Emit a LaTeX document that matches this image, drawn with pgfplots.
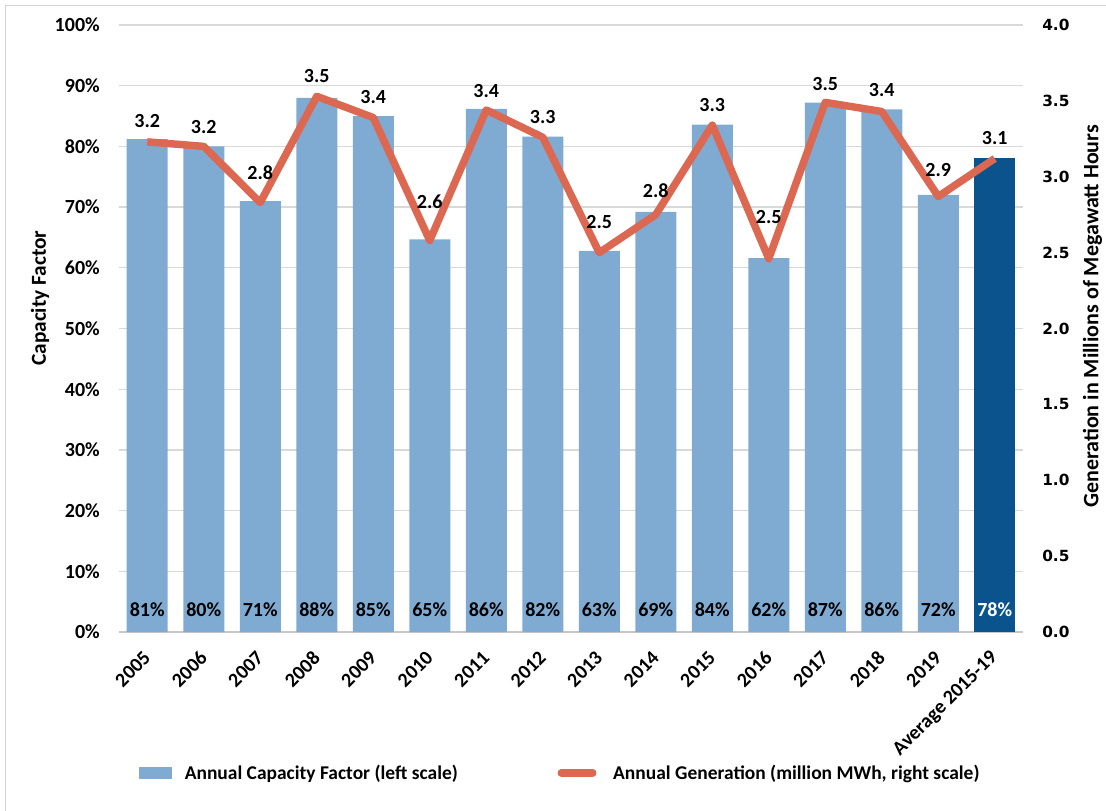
\documentclass[border=0pt]{standalone}
\usepackage{fontspec}
\setmainfont{Carlito}
\newfontfamily\dvsans{DejaVu Sans}
\usepackage{pgfplots}
\pgfplotsset{compat=1.18}
\definecolor{cfblue}{RGB}{127,170,210}
\definecolor{avgblue}{RGB}{11,83,140}
\definecolor{genred}{RGB}{221,104,82}
\definecolor{gridgray}{RGB}{217,217,217}
\newcommand{\lblfont}{\bfseries\fontsize{15}{18}\selectfont}

\begin{document}
\begin{tikzpicture}
\path[use as bounding box] (-89.25pt,-133.5pt) rectangle (740.25pt,474pt);
\draw[gray!35, line width=0.75pt] (-84.75pt,-140pt) -- (-84.75pt,469.5pt) -- (745pt,469.5pt);

% bars, left scale
\begin{axis}[
  at={(0pt,0pt)}, anchor=south west,
  scale only axis, width=678pt, height=455.25pt,
  xmin=-0.5, xmax=15.5, ymin=0, ymax=100,
  axis x line*=bottom, axis y line*=left,
  x axis line style={-, draw=gridgray!80!gray, line width=1.2pt},
  y axis line style={draw=none},
  tick style={draw=none},
  ymajorgrids, major grid style={draw=gridgray, line width=1pt},
  ytick={0,10,20,30,40,50,60,70,80,90,100},
  yticklabels={0\%,10\%,20\%,30\%,40\%,50\%,60\%,70\%,80\%,90\%,100\%},
  yticklabel style={font=\lblfont, anchor=east, inner sep=0pt},
  yticklabel shift=14.25pt,
  xtick={0,...,15},
  xticklabels={2005,2006,2007,2008,2009,2010,2011,2012,2013,2014,2015,2016,2017,2018,2019,Average 2015-19},
  xticklabel style={font=\lblfont, rotate=45, anchor=east, inner sep=0pt},
  xticklabel shift=12.75pt,
  ylabel={Capacity Factor},
  ylabel style={font=\bfseries\fontsize{16}{18}\selectfont, at={(axis description cs:-0.0874,0.55)}, anchor=center},
  ybar, bar width=30.75pt, bar shift=0pt,
  clip=false
]
\addplot[fill=cfblue, draw=none] coordinates {
  (0,81.2) (1,80.0) (2,71.0) (3,88.0) (4,85.0) (5,64.7) (6,86.2) (7,81.6)
  (8,62.8) (9,69.2) (10,83.6) (11,61.6) (12,87.2) (13,86.1) (14,72.0)};
\addplot[fill=avgblue, draw=none] coordinates {(15,78.1)};

\node[font=\lblfont] at (axis cs:0,3.6) {81\%};
\node[font=\lblfont] at (axis cs:1,3.6) {80\%};
\node[font=\lblfont] at (axis cs:2,3.6) {71\%};
\node[font=\lblfont] at (axis cs:3,3.6) {88\%};
\node[font=\lblfont] at (axis cs:4,3.6) {85\%};
\node[font=\lblfont] at (axis cs:5,3.6) {65\%};
\node[font=\lblfont] at (axis cs:6,3.6) {86\%};
\node[font=\lblfont] at (axis cs:7,3.6) {82\%};
\node[font=\lblfont] at (axis cs:8,3.6) {63\%};
\node[font=\lblfont] at (axis cs:9,3.6) {69\%};
\node[font=\lblfont] at (axis cs:10,3.6) {84\%};
\node[font=\lblfont] at (axis cs:11,3.6) {62\%};
\node[font=\lblfont] at (axis cs:12,3.6) {87\%};
\node[font=\lblfont] at (axis cs:13,3.6) {86\%};
\node[font=\lblfont] at (axis cs:14,3.6) {72\%};
\node[font=\lblfont, text=white] at (axis cs:15,3.6) {78\%};
\end{axis}

% line, right scale
\begin{axis}[
  at={(0pt,0pt)}, anchor=south west,
  scale only axis, width=678pt, height=455.25pt,
  xmin=-0.5, xmax=15.5, ymin=0, ymax=4,
  axis x line=none, axis y line*=right,
  y axis line style={draw=none},
  tick style={draw=none},
  ytick={0,0.5,1,1.5,2,2.5,3,3.5,4},
  yticklabels={0.0,0.5,1.0,1.5,2.0,2.5,3.0,3.5,4.0},
  yticklabel style={font=\dvsans\bfseries\fontsize{11.5}{13}\selectfont, anchor=west, inner sep=0pt},
  yticklabel shift=14.25pt,
  ylabel={Generation in Millions of Megawatt Hours},
  ylabel style={font=\bfseries\fontsize{16.5}{18}\selectfont, at={(axis description cs:1.077,0.52)}, anchor=center},
  legend columns=2,
  legend cell align=left,
  legend style={at={(axis description cs:0.0221,-0.232)}, anchor=west,
    draw=none, fill=none, inner sep=0pt, font=\bfseries\fontsize{14.6}{17}\selectfont,
    nodes={inner sep=0pt},
    /tikz/every odd column/.append style={column sep=9.75pt},
    /tikz/every even column/.append style={column sep=72pt}},
  clip=false
]
\addlegendimage{legend image code/.code={\fill[cfblue] (0pt,-4.125pt) rectangle (24pt,4.125pt);}}
\addlegendentry{Annual Capacity Factor (left scale)}

\addplot[genred, line width=5.6pt, line join=round, mark=none,
  legend image code/.code={\path (0pt,0pt) (29.2pt,0pt);
    \draw[genred, line width=5.6pt, line cap=round] (2.8pt,0pt) -- (26.4pt,0pt);}]
  coordinates {
  (0,3.23) (1,3.20) (2,2.83) (3,3.53) (4,3.39) (5,2.58) (6,3.44) (7,3.26)
  (8,2.50) (9,2.75) (10,3.34) (11,2.46) (12,3.49) (13,3.43) (14,2.87) (15,3.12)};
\addlegendentry{Annual Generation (million MWh, right scale)}

\node[font=\lblfont] at (axis cs:0,3.367) {3.2};
\node[font=\lblfont] at (axis cs:1,3.328) {3.2};
\node[font=\lblfont] at (axis cs:2,3.025) {2.8};
\node[font=\lblfont] at (axis cs:3,3.664) {3.5};
\node[font=\lblfont] at (axis cs:4,3.526) {3.4};
\node[font=\lblfont] at (axis cs:5,2.834) {2.6};
\node[font=\lblfont] at (axis cs:6,3.565) {3.4};
\node[font=\lblfont] at (axis cs:7,3.394) {3.3};
\node[font=\lblfont] at (axis cs:8,2.702) {2.5};
\node[font=\lblfont] at (axis cs:9,2.906) {2.8};
\node[font=\lblfont] at (axis cs:10,3.473) {3.3};
\node[font=\lblfont] at (axis cs:11,2.735) {2.5};
\node[font=\lblfont] at (axis cs:12,3.611) {3.5};
\node[font=\lblfont] at (axis cs:13,3.572) {3.4};
\node[font=\lblfont] at (axis cs:14,3.045) {2.9};
\node[font=\lblfont] at (axis cs:15,3.255) {3.1};
\end{axis}
\end{tikzpicture}
\end{document}
